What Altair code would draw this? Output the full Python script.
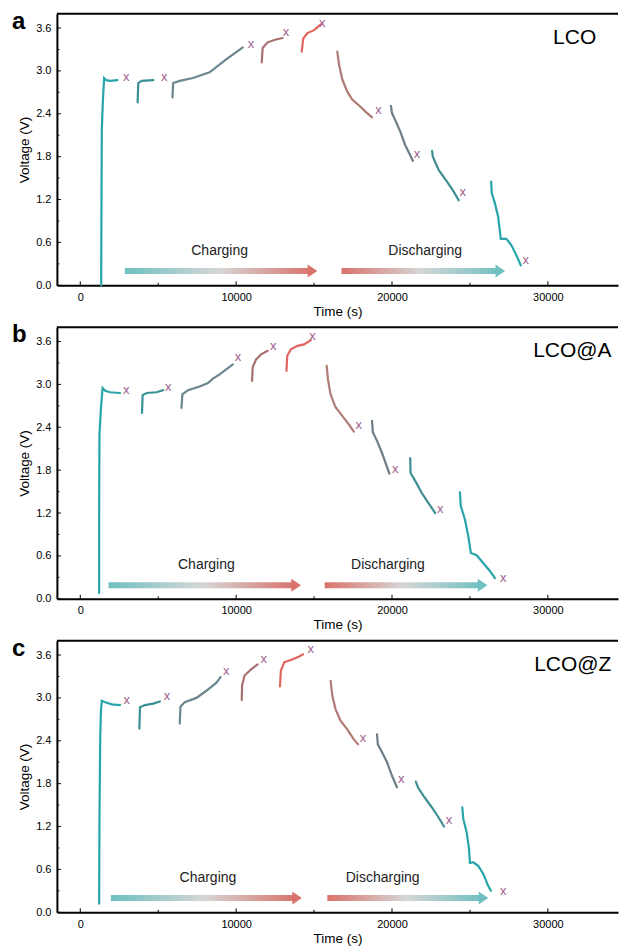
import altair as alt
import pandas as pd

FONT = "Liberation Sans"

PANEL_LETTERS = ["a", "b", "c"]
PANEL_NAMES = ["LCO", "LCO@A", "LCO@Z"]
NAME_X = [497, 477, 478]

SEG_COLORS = ["#27a5aa", "#3a9197", "#6c8690", "#a8716f", "#e0665e",
              "#b07b77", "#6e7e87", "#3e8e94", "#27a5aa"]
MARK_COLOR = "#a0608e"

# ---- panel a (LCO) ----
A_T = [[1340, 1360, 1380, 1450, 1530, 1660, 1915, 2380],
       [3680, 3720, 3940, 4680],
       [5915, 5960, 6380, 7230, 8300, 9360, 10430],
       [11640, 11700, 12020, 12550, 12980],
       [14210, 14300, 14570, 15000, 15320, 15490],
       [16490, 16600, 16810, 17130, 17450, 17870, 18300, 18720],
       [19930, 20000, 20250, 20530, 20850, 21170, 21340],
       [22570, 22620, 23000, 23530, 23960, 24280],
       [26360, 26400, 26600, 26810, 26980, 27340, 27660, 27980, 28260]]
A_V = [[0.00, 1.19, 2.17, 2.59, 2.90, 2.87, 2.86, 2.87],
       [2.56, 2.83, 2.86, 2.87],
       [2.63, 2.83, 2.86, 2.90, 2.98, 3.16, 3.33],
       [3.12, 3.32, 3.40, 3.44, 3.46],
       [3.27, 3.45, 3.53, 3.57, 3.63, 3.66],
       [3.27, 3.09, 2.88, 2.71, 2.60, 2.52, 2.43, 2.35],
       [2.51, 2.41, 2.29, 2.15, 1.96, 1.82, 1.74],
       [1.88, 1.80, 1.61, 1.45, 1.31, 1.19],
       [1.45, 1.29, 1.15, 0.96, 0.65, 0.65, 0.56, 0.42, 0.28]]
A_XT = [2940, 5380, 10960, 13190, 15530, 19140, 21600, 24530, 28580]
A_XV = [2.92, 2.92, 3.37, 3.54, 3.67, 2.45, 1.84, 1.31, 0.36]

# ---- panel b (LCO@A) ----
B_T = [[1210, 1210, 1230, 1320, 1430, 1600, 1910, 2550],
       [3960, 4000, 4260, 4890, 5320],
       [6490, 6550, 6910, 7660, 8190, 8510, 8940, 9790],
       [11020, 11060, 11280, 11600, 12020],
       [13230, 13280, 13510, 13940, 14360, 14790],
       [15810, 15890, 16060, 16380, 16810, 17230, 17550],
       [18720, 18770, 19040, 19360, 19620, 19830],
       [21170, 21190, 21490, 21910, 22340, 22770],
       [24360, 24410, 24680, 24890, 25060, 25430, 25850, 26280, 26600]]
B_V = [[0.08, 1.25, 2.30, 2.65, 2.95, 2.91, 2.89, 2.88],
       [2.60, 2.85, 2.88, 2.89, 2.92],
       [2.67, 2.86, 2.92, 2.97, 3.02, 3.08, 3.14, 3.28],
       [3.05, 3.24, 3.35, 3.42, 3.47],
       [3.19, 3.40, 3.49, 3.54, 3.56, 3.62],
       [3.26, 3.07, 2.86, 2.68, 2.56, 2.44, 2.34],
       [2.49, 2.33, 2.21, 2.04, 1.88, 1.75],
       [1.97, 1.76, 1.65, 1.48, 1.34, 1.20],
       [1.49, 1.30, 1.11, 0.88, 0.64, 0.61, 0.50, 0.39, 0.29]]
B_XT = [2940, 5640, 10110, 12380, 14890, 17870, 20210, 23090, 27130]
B_XV = [2.92, 2.97, 3.39, 3.54, 3.68, 2.43, 1.82, 1.26, 0.29]

# ---- panel c (LCO@Z) ----
C_T = [[1210, 1230, 1280, 1320, 1380, 1600, 2020, 2550],
       [3790, 3830, 4150, 4680, 5110],
       [6380, 6430, 6700, 7450, 8090, 8720, 9000],
       [10360, 10380, 10530, 10960, 11380],
       [12810, 12870, 13090, 13510, 14040, 14300],
       [16060, 16170, 16380, 16700, 17130, 17550, 17830],
       [19040, 19090, 19360, 19680, 20000, 20320],
       [21530, 21660, 22020, 22550, 22980, 23340],
       [24510, 24570, 24790, 24940, 25000, 25210, 25530, 25850, 26170, 26340]]
C_V = [[0.12, 1.31, 2.45, 2.80, 2.96, 2.94, 2.91, 2.90],
       [2.57, 2.87, 2.90, 2.92, 2.95],
       [2.64, 2.88, 2.94, 3.00, 3.10, 3.21, 3.29],
       [2.97, 3.17, 3.31, 3.40, 3.47],
       [3.16, 3.38, 3.50, 3.53, 3.58, 3.61],
       [3.24, 3.03, 2.84, 2.68, 2.56, 2.42, 2.35],
       [2.49, 2.35, 2.24, 2.10, 1.91, 1.75],
       [1.83, 1.75, 1.63, 1.47, 1.33, 1.20],
       [1.47, 1.31, 1.12, 0.89, 0.69, 0.70, 0.65, 0.54, 0.37, 0.30]]
C_XT = [2980, 5570, 9360, 11770, 14790, 18130, 20600, 23660, 27130]
C_XV = [2.97, 3.02, 3.38, 3.55, 3.68, 2.44, 1.86, 1.29, 0.30]

# arrows (time of start, time of tip) and labels
CHG_START = [2860, 1810, 1960]
CHG_TIP = [15200, 14150, 14210]
DIS_START = [16760, 15680, 15850]
DIS_TIP = [27250, 26110, 26170]
ARROW_V = [0.20, 0.19, 0.20]
CHG_LABEL_T = [8940, 8090, 8190]
DIS_LABEL_T = [22130, 19740, 19400]
LABEL_V = 0.42

X_MAJOR = [0, 10000, 20000, 30000]
X_MINOR = [5000, 15000, 25000]
Y_MAJOR = [0.0, 0.6, 1.2, 1.8, 2.4, 3.0, 3.6]
Y_MINOR = [0.3, 0.9, 1.5, 2.1, 2.7, 3.3]

X_DOMAIN = [-1500, 34500]
Y_DOMAIN = [0, 3.8]
W, H = 562, 272

TEAL = "#6fc0c1"
GREY = "#d6d6d6"
RED = "#d9736b"

xs = alt.Scale(domain=X_DOMAIN, nice=False, zero=False)
ys = alt.Scale(domain=Y_DOMAIN, nice=False, zero=False)
x_axis = alt.Axis(values=X_MAJOR, format="d", title="Time (s)", ticks=False,
                  labelPadding=6, titlePadding=2, grid=False)
y_axis = alt.Axis(values=Y_MAJOR, format=".1f", title="Voltage (V)", ticks=False,
                  labelPadding=6, titlePadding=4, grid=False)


def X(f):
    return alt.X(f, type="quantitative", scale=xs, axis=x_axis, title="Time (s)")


def Y(f):
    return alt.Y(f, type="quantitative", scale=ys, axis=y_axis, title="Voltage (V)")


def grad(c0, c1):
    return alt.Gradient(gradient="linear",
                        stops=[alt.GradientStop(color=c0, offset=0),
                               alt.GradientStop(color=GREY, offset=0.5),
                               alt.GradientStop(color=c1, offset=1)],
                        x1=0, x2=1, y1=0, y2=0)


def panel(k, TT, VV, XT, XV):
    rows = []
    for s, (ts, vs) in enumerate(zip(TT, VV)):
        for i, (t, v) in enumerate(zip(ts, vs)):
            rows.append({"seg": "s%d" % (s + 1), "i": i, "t": t, "v": v})
    df = pd.DataFrame(rows)
    seg_domain = ["s%d" % (j + 1) for j in range(9)]
    lines = alt.Chart(df).mark_line(strokeWidth=2.2, strokeCap="round").encode(
        x=X("t"), y=Y("v"),
        color=alt.Color("seg:N", scale=alt.Scale(domain=seg_domain, range=SEG_COLORS),
                        legend=None),
        order="i:Q")
    marks = alt.Chart(pd.DataFrame({"t": XT, "v": XV})).mark_text(
        text="x", fontSize=13, color=MARK_COLOR, font=FONT, baseline="middle").encode(
        x=X("t"), y=Y("v"))

    half = 0.042
    head_dt = 600
    chg_df = pd.DataFrame({"t": [CHG_START[k]], "t2": [CHG_TIP[k] - head_dt / 2],
                           "v": [ARROW_V[k] - half], "v2": [ARROW_V[k] + half]})
    dis_df = pd.DataFrame({"t": [DIS_START[k]], "t2": [DIS_TIP[k] - head_dt / 2],
                           "v": [ARROW_V[k] - half], "v2": [ARROW_V[k] + half]})
    chg = alt.Chart(chg_df).mark_rect(fill=grad(TEAL, RED)).encode(
        x=X("t"), x2="t2", y=Y("v"), y2="v2")
    dis = alt.Chart(dis_df).mark_rect(fill=grad(RED, TEAL)).encode(
        x=X("t"), x2="t2", y=Y("v"), y2="v2")
    head_shape = "M-0.75,-1L0.75,0L-0.75,1Z"
    chg_head = alt.Chart(pd.DataFrame({"t": [CHG_TIP[k] - head_dt / 2], "v": [ARROW_V[k]]})
                         ).mark_point(shape=head_shape, filled=True, size=165, opacity=1,
                                      strokeWidth=0, color=RED).encode(x=X("t"), y=Y("v"))
    dis_head = alt.Chart(pd.DataFrame({"t": [DIS_TIP[k] - head_dt / 2], "v": [ARROW_V[k]]})
                         ).mark_point(shape=head_shape, filled=True, size=165, opacity=1,
                                      strokeWidth=0, color=TEAL).encode(x=X("t"), y=Y("v"))
    lab_df = pd.DataFrame({"t": [CHG_LABEL_T[k], DIS_LABEL_T[k]],
                           "v": [LABEL_V, LABEL_V],
                           "txt": ["Charging", "Discharging"]})
    labels = alt.Chart(lab_df).mark_text(fontSize=14, font=FONT, color="#222222",
                                         baseline="alphabetic", align="center").encode(
        x=X("t"), y=Y("v"), text="txt:N")

    one = pd.DataFrame({"k": [0]})
    border = alt.Chart(one).mark_rule(color="black", strokeWidth=2).encode(
        x=alt.value(0), x2=alt.value(W), y=alt.value(0))
    ytick_maj = alt.Chart(pd.DataFrame({"v": Y_MAJOR})).mark_rule(
        color="black", strokeWidth=1).encode(y=Y("v"), x=alt.value(0), x2=alt.value(4))
    ytick_min = alt.Chart(pd.DataFrame({"v": Y_MINOR})).mark_rule(
        color="black", strokeWidth=1).encode(y=Y("v"), x=alt.value(0), x2=alt.value(2.5))
    xtick_maj = alt.Chart(pd.DataFrame({"t": X_MAJOR})).mark_rule(
        color="black", strokeWidth=1).encode(x=X("t"), y=alt.value(H), y2=alt.value(H - 4))
    xtick_min = alt.Chart(pd.DataFrame({"t": X_MINOR})).mark_rule(
        color="black", strokeWidth=1).encode(x=X("t"), y=alt.value(H), y2=alt.value(H - 2.5))

    letter = alt.Chart(one).mark_text(text=PANEL_LETTERS[k], fontSize=24, fontWeight="bold",
                                      font=FONT, align="left", baseline="alphabetic",
                                      color="black").encode(
        x=alt.value(-45), y=alt.value(15))
    name = alt.Chart(one).mark_text(text=PANEL_NAMES[k], fontSize=21, font=FONT,
                                    align="left", baseline="alphabetic",
                                    color="black").encode(
        x=alt.value(NAME_X[k]), y=alt.value(30))

    return alt.layer(chg, dis, chg_head, dis_head, labels, lines, marks, border,
                     ytick_maj, ytick_min, xtick_maj, xtick_min, letter, name).properties(
        width=W, height=H)


chart = alt.vconcat(
    panel(0, A_T, A_V, A_XT, A_XV),
    panel(1, B_T, B_V, B_XT, B_XV),
    panel(2, C_T, C_V, C_XT, C_XV),
    spacing=5,
).properties(
    padding={"left": 12, "top": 9, "right": 0, "bottom": 0},
    background="white",
).configure_view(stroke=None).configure_axis(
    domainColor="black", domainWidth=2, labelColor="black", titleColor="black",
    labelFont=FONT, titleFont=FONT, labelFontSize=11, titleFontSize=13.5,
    titleFontWeight="normal",
)

chart.save("out.html", embed_options={"renderer": "svg", "actions": False})
